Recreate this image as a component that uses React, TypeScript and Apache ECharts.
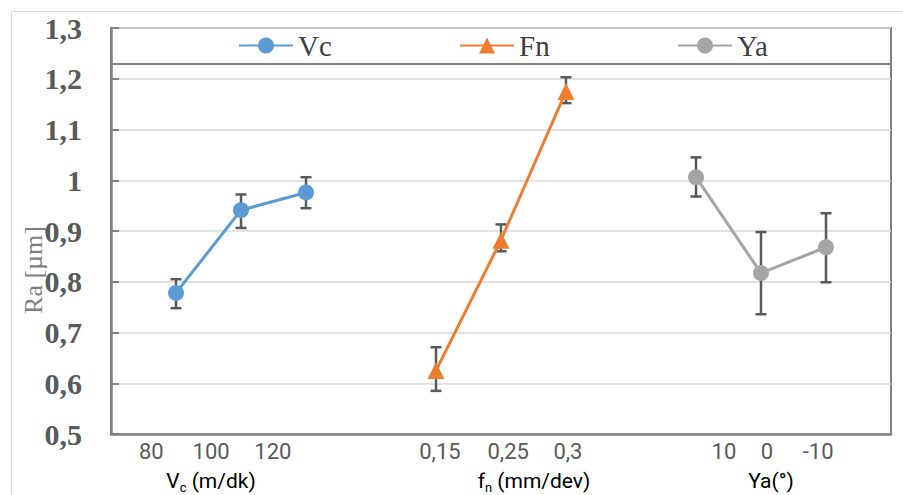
import React, { useEffect, useRef } from "react";
import * as echarts from "echarts";

// ---- data ----
const seriesNames = ["Vc", "Fn", "Ya"];
const vcX = [1, 2, 3];
const fnX = [5, 6, 7];
const yaX = [9, 10, 11];
const vcValues = [0.778, 0.941, 0.976];
const fnValues = [0.625, 0.882, 1.175];
const yaValues = [1.006, 0.817, 0.868];
const vcLow = [0.748, 0.906, 0.945];
const vcHigh = [0.805, 0.972, 1.006];
const fnLow = [0.585, 0.86, 1.152];
const fnHigh = [0.671, 0.913, 1.203];
const yaLow = [0.968, 0.736, 0.799];
const yaHigh = [1.045, 0.898, 0.935];
const xTickLabels = ["80", "100", "120", "0,15", "0,25", "0,3", "10", "0", "-10"];
const xTickPos = [0.62, 1.54, 2.49, 5.06, 6.11, 7.03, 9.43, 10.09, 10.88];
const yMin = 0.5;
const yMax = 1.3;
const yStep = 0.1;
const yTitle = "Ra [µm]";

const colors = ["#5B9BD5", "#ED7D31", "#A5A5A5"];

function pairs(xs: number[], ys: number[]) {
  return xs.map((x, i) => [x, ys[i]]);
}
function errs(xs: number[], lo: number[], hi: number[]) {
  return xs.map((x, i) => [x, lo[i], hi[i]]);
}

export default function App() {
  const ref = useRef<HTMLDivElement>(null);
  useEffect(() => {
    document.body.style.margin = "0";
    const chart = echarts.init(ref.current!, null, { renderer: "svg" });
    const errColor = "#595959";
    const renderErr = (params: any, api: any) => {
      const x = api.value(0);
      const lo = api.coord([x, api.value(1)]);
      const hi = api.coord([x, api.value(2)]);
      const w = 5.5;
      const st = { stroke: errColor, lineWidth: 2.5 };
      return {
        type: "group",
        children: [
          { type: "line", shape: { x1: hi[0], y1: hi[1], x2: lo[0], y2: lo[1] }, style: st },
          { type: "line", shape: { x1: hi[0] - w, y1: hi[1], x2: hi[0] + w, y2: hi[1] }, style: st },
          { type: "line", shape: { x1: lo[0] - w, y1: lo[1], x2: lo[0] + w, y2: lo[1] }, style: st },
        ],
      };
    };
    const legendCommon = {
      top: 31,
      padding: 0,
      itemWidth: 54,
      itemHeight: 20,
      itemGap: 4,
      textStyle: { fontFamily: "Liberation Serif", fontSize: 29, color: "#404040" },
    };
    const richTitle = {
      m: { fontFamily: "Roboto", fontSize: 21, color: "#595959", lineHeight: 26, verticalAlign: "middle" },
      s: { fontFamily: "Roboto", fontSize: 13, color: "#595959", lineHeight: 13, verticalAlign: "bottom" },
    };
    chart.setOption({
      animation: false,
      color: colors,
      grid: {
        left: 111,
        top: 28,
        right: 12,
        bottom: 61,
        show: true,
        borderColor: "#808080",
        borderWidth: 2,
        containLabel: false,
      },
      legend: [
        { ...legendCommon, left: 238, data: [seriesNames[0]] },
        { ...legendCommon, left: 459, data: [seriesNames[1]] },
        { ...legendCommon, left: 677, data: [seriesNames[2]] },
      ],
      xAxis: {
        type: "value",
        min: 0,
        max: 12,
        axisLine: { show: true, lineStyle: { color: "#808080", width: 2.5 } },
        axisTick: { show: false },
        splitLine: { show: false },
        axisLabel: {
          customValues: xTickPos,
          margin: 6,
          fontFamily: "Roboto",
          fontSize: 22,
          color: "#595959",
          formatter: (v: number) => {
            const i = xTickPos.findIndex((p) => Math.abs(p - v) < 1e-6);
            return i >= 0 ? xTickLabels[i] : "";
          },
        },
      },
      yAxis: {
        type: "value",
        min: yMin,
        max: yMax,
        interval: yStep,
        axisLine: { show: true, lineStyle: { color: "#808080", width: 2.5 } },
        axisTick: { show: true, inside: true, length: 8, lineStyle: { color: "#808080", width: 2 } },
        splitLine: { show: true, lineStyle: { color: "#d9d9d9", width: 1.5 } },
        axisLabel: {
          margin: 29,
          fontFamily: "Liberation Serif",
          fontWeight: "bold",
          fontSize: 30,
          color: "#595959",
          formatter: (v: number) => String(Math.round(v * 10) / 10).replace(".", ","),
        },
      },
      graphic: [
        {
          type: "rect",
          left: 9,
          top: 9,
          shape: { x: 0, y: 0, width: 1000, height: 1000 },
          style: { fill: "none", stroke: "#d9d9d9", lineWidth: 1 },
          silent: true,
          z: -10,
        },
        {
          type: "rect",
          shape: { x: 111, y: 28, width: 780, height: 36 },
          style: { fill: "#ffffff", stroke: "#808080", lineWidth: 2 },
          silent: true,
          z: 0,
        },
        {
          type: "text",
          x: 33,
          y: 270,
          rotation: Math.PI / 2,
          style: {
            text: yTitle,
            fontFamily: "Liberation Serif",
            fontSize: 26,
            fill: "#7f7f7f",
            align: "center",
            verticalAlign: "middle",
          },
          z: 10,
        },
        {
          type: "text",
          x: 211,
          y: 481,
          style: { text: "{m|V}{s|c}{m| (m/dk)}", align: "center", verticalAlign: "middle", rich: richTitle },
        },
        {
          type: "text",
          x: 534,
          y: 481,
          style: { text: "{m|f}{s|n}{m| (mm/dev)}", align: "center", verticalAlign: "middle", rich: richTitle },
        },
        {
          type: "text",
          x: 771,
          y: 481,
          style: { text: "{m|Ya(°)}", align: "center", verticalAlign: "middle", rich: richTitle },
        },
      ],
      series: [
        { type: "custom", name: "errVc", renderItem: renderErr, data: errs(vcX, vcLow, vcHigh), encode: { x: 0, y: [1, 2] }, z: 3, silent: true },
        { type: "custom", name: "errFn", renderItem: renderErr, data: errs(fnX, fnLow, fnHigh), encode: { x: 0, y: [1, 2] }, z: 3, silent: true },
        { type: "custom", name: "errYa", renderItem: renderErr, data: errs(yaX, yaLow, yaHigh), encode: { x: 0, y: [1, 2] }, z: 3, silent: true },
        {
          type: "line",
          name: seriesNames[0],
          data: pairs(vcX, vcValues),
          symbol: "circle",
          symbolSize: 16,
          lineStyle: { width: 3, color: colors[0] },
          itemStyle: { color: colors[0] },
          z: 4,
        },
        {
          type: "line",
          name: seriesNames[1],
          data: pairs(fnX, fnValues),
          symbol: "triangle",
          symbolSize: 17,
          lineStyle: { width: 3, color: colors[1] },
          itemStyle: { color: colors[1] },
          z: 4,
        },
        {
          type: "line",
          name: seriesNames[2],
          data: pairs(yaX, yaValues),
          symbol: "circle",
          symbolSize: 16,
          lineStyle: { width: 3, color: colors[2] },
          itemStyle: { color: colors[2] },
          z: 4,
        },
      ],
    });
    return () => chart.dispose();
  }, []);
  return <div ref={ref} style={{ width: 903, height: 495 }} />;
}
